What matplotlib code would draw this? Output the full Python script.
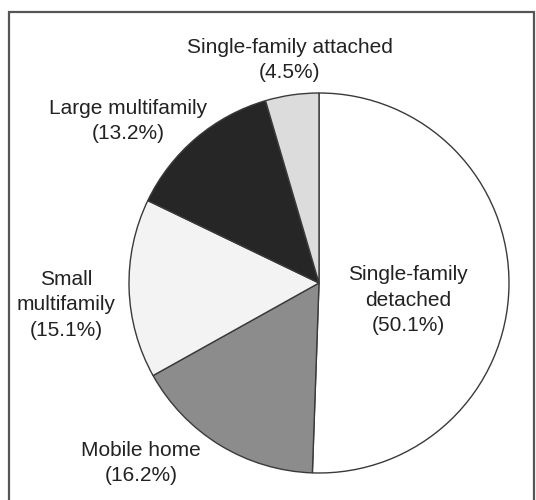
import matplotlib.pyplot as plt
from matplotlib.patches import Rectangle

plt.rcParams["font.family"] = ["Liberation Sans", "DejaVu Sans"]

# housing type shares, clockwise from the top
categories = [
    "Single-family\ndetached",
    "Mobile home",
    "Small\nmultifamily",
    "Large multifamily",
    "Single-family attached",
]
shares = [50.1, 16.2, 15.1, 13.2, 4.5]
colors = ["#ffffff", "#8c8c8c", "#f3f3f3", "#262626", "#dcdcdc"]

# label anchor points (pixel coords, y from top)
label_pos = [(408, 300), (141, 463), (66, 305), (128, 121), (290, 60)]

W, H = 536, 500
fig = plt.figure(figsize=(W / 100, H / 100), dpi=100)
ax = fig.add_axes([0, 0, 1, 1])

ax.pie(
    shares,
    colors=colors,
    startangle=90,
    counterclock=False,
    center=(319, H - 283),
    radius=190,
    normalize=True,
    frame=True,
    wedgeprops=dict(edgecolor="#3a3a3a", linewidth=1.0),
)
ax.set_xlim(0, W)
ax.set_ylim(0, H)
ax.set_aspect("equal")
ax.axis("off")

for cat, val, (x, y) in zip(categories, shares, label_pos):
    ax.text(
        x, H - y, f"{cat}\n({val}%)",
        ha="center", va="center", fontsize=15,
        color="#222222", linespacing=1.42,
    )

# frame around the figure
fig.patches.append(
    Rectangle((9 / W, -0.05), (534 - 9) / W, (H + 25 - 12) / H,
              transform=fig.transFigure, fill=False,
              edgecolor="#555555", linewidth=1.6)
)

fig.savefig("out.png", dpi=100)
